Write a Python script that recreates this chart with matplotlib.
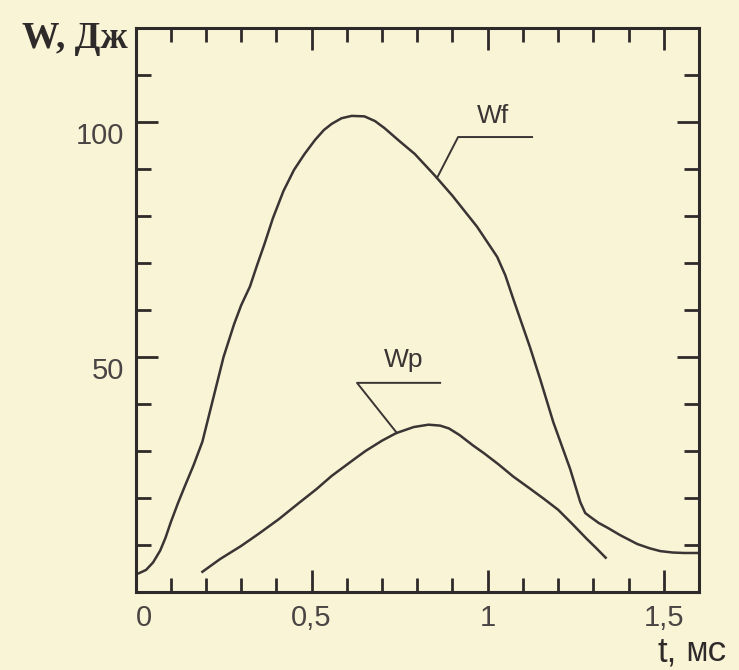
import numpy as np
import matplotlib
matplotlib.use("Agg")
import matplotlib.pyplot as plt

# ---- data ----
wf_t = [0.01, 0.03, 0.05, 0.07, 0.085, 0.10, 0.12, 0.14, 0.165, 0.19, 0.205, 0.22,
        0.25, 0.28, 0.30, 0.325, 0.345, 0.366, 0.39, 0.42, 0.45, 0.48, 0.51, 0.535,
        0.557, 0.585, 0.614, 0.65, 0.68, 0.707, 0.75, 0.793, 0.85, 0.90, 0.97,
        1.027, 1.05, 1.072, 1.12, 1.149, 1.186, 1.234, 1.263, 1.277, 1.291, 1.315,
        1.342, 1.376, 1.425, 1.46, 1.49, 1.525, 1.558, 1.6]
wf_w = [4, 4.7, 6.3, 8.8, 11.5, 14.8, 18.8, 22.5, 27, 32, 36.5, 41,
        50, 57, 61, 65, 69.5, 74, 79.5, 85.3, 89.8, 93.2, 96.2, 98.3,
        99.6, 100.8, 101.3, 101.2, 100.2, 98.7, 95.9, 93.2, 88.6, 84.3, 77.7,
        71.3, 67.4, 62.5, 52.1, 45.3, 36.2, 26.2, 19.1, 16.8, 16.0, 14.7,
        13.6, 12.1, 10.2, 9.3, 8.7, 8.4, 8.3, 8.3]

wp_t = [0.19, 0.24, 0.30, 0.35, 0.407, 0.46, 0.514, 0.557, 0.62, 0.653, 0.70, 0.74,
        0.79, 0.832, 0.865, 0.89, 0.92, 0.958, 0.99, 1.03, 1.072, 1.12, 1.16, 1.20,
        1.24, 1.28, 1.31, 1.335]
wp_w = [4.3, 7, 9.8, 12.4, 15.5, 18.7, 21.9, 24.7, 28.2, 30, 32.2, 33.8,
        35.1, 35.6, 35.4, 34.8, 33.4, 31.2, 29.5, 27.2, 24.6, 22, 19.8, 17.5,
        14.5, 11.4, 9.2, 7.3]

x_major = [0, 0.5, 1.0, 1.5]
x_labels = ["0", "0,5", "1", "1,5"]
y_major = [50, 100]
y_labels = ["50", "100"]

BG = "#faf4d6"
INK = "#3a3434"
FRAME = "#2f2a2a"

fig = plt.figure(figsize=(7.39, 6.70), dpi=100, facecolor=BG)
ax = fig.add_axes([135.5 / 739, 1 - 592 / 670, (699 - 135.5) / 739, (592 - 28) / 670])
ax.set_facecolor(BG)

ax.plot(wf_t, wf_w, color=INK, lw=1.8, solid_joinstyle="round")
ax.plot(wp_t, wp_w, color=INK, lw=1.8, solid_joinstyle="round")

ax.set_xlim(0, 1.6)
ax.set_ylim(0, 120)

ax.set_xticks(x_major)
ax.set_xticklabels(x_labels)
ax.set_xticks(np.arange(1, 16) / 10, minor=True)
ax.set_yticks(y_major)
ax.set_yticklabels(y_labels)
ax.set_yticks(np.arange(1, 12) * 10, minor=True)

for s in ax.spines.values():
    s.set_linewidth(2.2)
    s.set_color(FRAME)

ax.tick_params(which="both", direction="in", top=True, right=True,
               color=FRAME, width=2.0, labelcolor="#4a4444")
ax.tick_params(which="major", length=16)
ax.tick_params(axis="x", which="minor", length=10)
ax.tick_params(axis="y", which="minor", length=11)
ax.tick_params(axis="x", which="major", pad=9)
ax.tick_params(axis="y", which="major", pad=8)

for lab in ax.get_xticklabels():
    lab.set_fontfamily("Liberation Sans")
    lab.set_fontsize(21)
ax.get_xticklabels()[0].set_horizontalalignment("left")
for lab in ax.get_yticklabels():
    lab.set_fontfamily("Liberation Sans")
    lab.set_fontsize(21)
    lab.set_verticalalignment("top")

# ---- curve labels with leader lines ----
def leader(t_curve, ts, ws, elbow, end, text, text_pos):
    w_curve = np.interp(t_curve, ts, ws)
    ax.plot([t_curve, elbow[0], end[0]], [w_curve, elbow[1], end[1]],
            color=INK, lw=1.4)
    ax.text(text_pos[0], text_pos[1], text, ha="center", va="center",
            fontsize=19, family="Liberation Sans", color=INK)

leader(0.856, wf_t, wf_w, (0.916, 96.8), (1.126, 96.8), "Wf", (1.015, 101.3))
leader(0.742, wp_t, wp_w, (0.629, 44.5), (0.865, 44.5), "Wp", (0.76, 49.4))

# ---- axis titles ----
fig.text(128 / 739, 1 - 38 / 670, "W, Дж", ha="right", va="center",
         fontsize=27, fontweight="bold", family=["Liberation Serif", "DejaVu Serif"],
         color=FRAME)
fig.text(657 / 739, 1 - 661 / 670, "t,", ha="left", va="baseline",
         fontsize=25, family="Liberation Sans", color=FRAME)
fig.text(686 / 739, 1 - 661 / 670, "мс", ha="left", va="baseline",
         fontsize=25, family=["Liberation Mono", "DejaVu Sans Mono"], color=FRAME)

fig.savefig("out.png", dpi=100, facecolor=BG)
